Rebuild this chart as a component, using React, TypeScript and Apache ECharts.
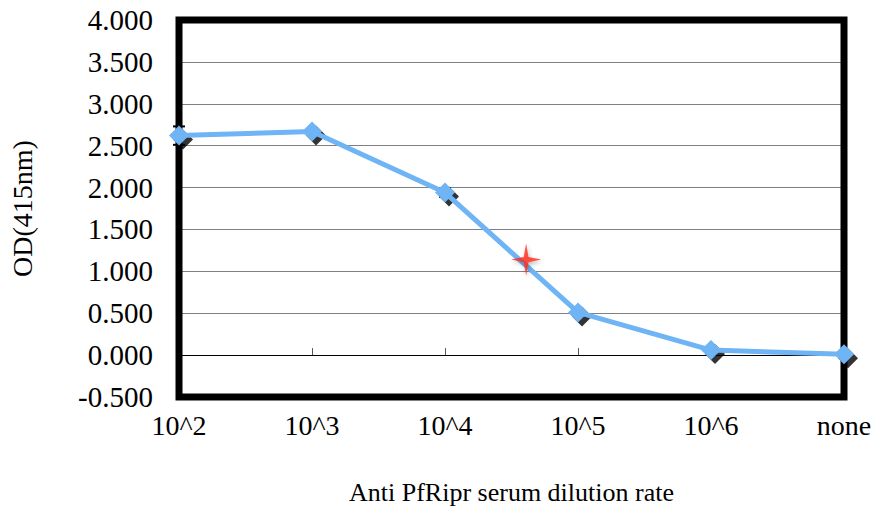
import React, { useEffect, useRef } from "react";
import * as echarts from "echarts";

const categories = ["10^2", "10^3", "10^4", "10^5", "10^6", "none"];
const odValues = [2.62, 2.67, 1.94, 0.51, 0.06, 0.01];
const odErrors = [0.11, 0.03, 0.05, 0.02, 0.01, 0.01];
const starPoint = [2.61, 1.14];
const yMin = -0.5;
const yMax = 4;
const yStep = 0.5;

const FONT = "'Liberation Serif', 'Times New Roman', serif";
const BLUE = "#6FB4F4";

export default function App() {
  const ref = useRef<HTMLDivElement>(null);
  useEffect(() => {
    if (!ref.current) return;
    const chart = echarts.init(ref.current, null, { renderer: "svg" });
    const lineData = odValues.map((v, i) => [i, v]);
    const errData = odValues.map((v, i) => [i, v - odErrors[i], v + odErrors[i]]);
    chart.setOption({
      animation: false,
      backgroundColor: "#ffffff",
      grid: {
        left: 179,
        right: 33,
        top: 20,
        bottom: 114,
      },
      xAxis: [
        {
          type: "value",
          min: 0,
          max: categories.length - 1,
          interval: 1,
          position: "bottom",
          axisLine: { show: false, onZero: false },
          axisTick: { show: false },
          splitLine: { show: false },
          axisLabel: {
            margin: 14,
            color: "#000",
            fontFamily: FONT,
            fontSize: 28,
            formatter: (v: number) => categories[Math.round(v)] ?? "",
          },
          name: "Anti PfRipr serum dilution rate",
          nameLocation: "middle",
          nameGap: 82,
          nameTextStyle: { color: "#000", fontFamily: FONT, fontSize: 26 },
        },
        {
          type: "value",
          min: 0,
          max: categories.length - 1,
          interval: 1,
          position: "bottom",
          axisLine: { show: true, onZero: true, lineStyle: { color: "#000", width: 1 } },
          axisTick: { show: true, inside: true, length: 7, lineStyle: { color: "#555", width: 1 } },
          axisLabel: { show: false },
          splitLine: { show: false },
        },
      ],
      yAxis: {
        type: "value",
        min: yMin,
        max: yMax,
        interval: yStep,
        axisLine: { show: false },
        axisTick: { show: false },
        splitLine: { show: true, lineStyle: { color: "#808080", width: 1 } },
        axisLabel: {
          margin: 26,
          color: "#000",
          fontFamily: FONT,
          fontSize: 29,
          formatter: (v: number) => v.toFixed(3),
        },
        name: "OD(415nm)",
        nameLocation: "middle",
        nameGap: 143,
        nameTextStyle: { color: "#000", fontFamily: FONT, fontSize: 28 },
      },
      series: [
        {
          type: "custom",
          xAxisIndex: 0,
          data: [[0, yMax, categories.length - 1, yMin]],
          clip: false,
          z: 1,
          silent: true,
          renderItem: (params: any, api: any) => {
            const a = api.coord([api.value(0), api.value(1)]);
            const b = api.coord([api.value(2), api.value(3)]);
            return {
              type: "rect",
              shape: { x: a[0], y: a[1], width: b[0] - a[0], height: b[1] - a[1] },
              style: { fill: "none", stroke: "#000000", lineWidth: 7 },
            };
          },
        },
        {
          type: "scatter",
          xAxisIndex: 0,
          data: lineData,
          symbol: "diamond",
          symbolSize: [20, 20],
          symbolOffset: [4, 4],
          itemStyle: { color: "#000" },
          clip: false,
          z: 2,
          silent: true,
        },
        {
          type: "custom",
          xAxisIndex: 0,
          data: errData,
          clip: false,
          z: 3,
          renderItem: (params: any, api: any) => {
            const x = api.value(0);
            const lo = api.coord([x, api.value(1)]);
            const hi = api.coord([x, api.value(2)]);
            const w = 6;
            const style = { stroke: "#000", lineWidth: 2 };
            return {
              type: "group",
              children: [
                { type: "line", shape: { x1: lo[0], y1: lo[1], x2: hi[0], y2: hi[1] }, style },
                { type: "line", shape: { x1: lo[0] - w, y1: lo[1], x2: lo[0] + w, y2: lo[1] }, style },
                { type: "line", shape: { x1: hi[0] - w, y1: hi[1], x2: hi[0] + w, y2: hi[1] }, style },
              ],
            };
          },
        },
        {
          type: "line",
          xAxisIndex: 0,
          data: lineData,
          symbol: "diamond",
          symbolSize: [20, 20],
          showAllSymbol: true,
          lineStyle: { color: BLUE, width: 5 },
          itemStyle: { color: BLUE },
          clip: false,
          z: 4,
        },
        {
          type: "scatter",
          xAxisIndex: 0,
          data: [starPoint],
          symbol: "path://M0,-10 L1.6,-1.6 L10,0 L1.6,1.6 L0,10 L-1.6,1.6 L-10,0 L-1.6,-1.6 Z",
          symbolSize: [30, 32],
          itemStyle: {
            color: "#FF2A1A",
            shadowColor: "rgba(0,0,0,0.35)",
            shadowBlur: 4,
            shadowOffsetX: 1,
            shadowOffsetY: 2,
          },
          clip: false,
          z: 5,
        },
      ],
    });
    return () => chart.dispose();
  }, []);
  return (
    <div
      ref={ref}
      style={{ position: "absolute", left: 0, top: 0, width: 877, height: 511, background: "#fff" }}
    />
  );
}
